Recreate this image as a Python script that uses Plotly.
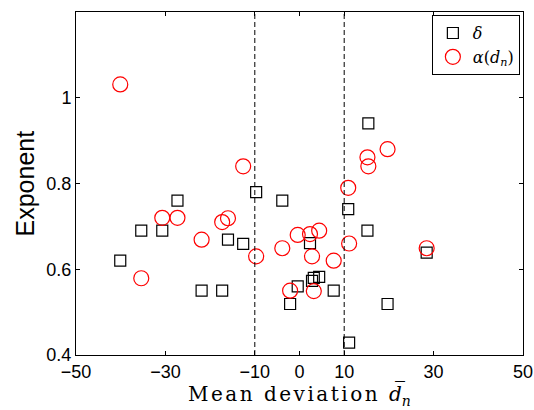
import plotly.graph_objects as go

# Mean deviation (x) shared by both series
mean_dev = [-40.1, -35.4, -30.7, -27.3, -21.9, -17.3, -16.0, -12.6, -9.7, -3.85,
            -2.1, -0.4, 2.35, 2.8, 3.2, 4.4, 7.65, 10.9, 11.1, 15.2, 15.4, 19.7, 28.45]
delta = [0.62, 0.69, 0.69, 0.76, 0.55, 0.55, 0.669, 0.659, 0.78, 0.76,
         0.519, 0.56, 0.661, 0.573, 0.58, 0.582, 0.55, 0.74, 0.429, 0.69, 0.94, 0.519, 0.639]
alpha = [1.031, 0.579, 0.72, 0.72, 0.669, 0.71, 0.719, 0.84, 0.63, 0.649,
         0.55, 0.68, 0.682, 0.63, 0.549, 0.69, 0.62, 0.79, 0.66, 0.861, 0.84, 0.88, 0.649]
x_ticks = [-50, -30, -10, 0, 10, 30, 50]
y_ticks = [0.4, 0.6, 0.8, 1.0]
y_tick_text = ["0.4", "0.6", "0.8", "1"]
vlines = [-10, 10]

fig = go.Figure()
fig.add_trace(go.Scatter(
    x=mean_dev, y=delta, mode="markers", name="<i>δ</i>",
    marker=dict(symbol="square-open", size=11, color="black", line=dict(width=1.2, color="black")),
))
fig.add_trace(go.Scatter(
    x=mean_dev, y=alpha, mode="markers", name="<i>α</i>(<i>d</i><sub><i>n</i></sub>)",
    marker=dict(symbol="circle-open", size=15, color="red", line=dict(width=1.2, color="red")),
))

for v in vlines:
    fig.add_shape(type="line", x0=v, x1=v, y0=0, y1=1, xref="x", yref="paper",
                  line=dict(color="black", width=1, dash="5px,3px"))

axis_common = dict(
    showline=True, linecolor="black", linewidth=1, mirror="ticks",
    ticks="inside", ticklen=4, tickcolor="black", showgrid=False, zeroline=False,
    automargin=False,
    tickfont=dict(family="Liberation Sans", size=18, color="black"),
)
fig.update_xaxes(range=[-50, 50], tickvals=x_ticks, **axis_common)
fig.update_yaxes(range=[0.4, 1.2], tickvals=y_ticks, ticktext=y_tick_text, **axis_common)

fig.add_annotation(
    text='<span style="letter-spacing:2.5px">Mean deviation </span><i>d̅</i><sub><i>n</i></sub>',
    x=0.5, y=0, xref="paper", yref="paper", xanchor="center", yanchor="top",
    yshift=-25, showarrow=False, borderpad=0,
    font=dict(family="DejaVu Serif", size=20, color="black"),
)
fig.add_annotation(
    text="Exponent", x=0, y=0.5, xref="paper", yref="paper", xanchor="center", yanchor="middle",
    xshift=-52, textangle=-90, showarrow=False,
    font=dict(family="Liberation Sans", size=25, color="black"),
)

fig.update_layout(
    width=534, height=410,
    margin=dict(l=76, r=11, t=12, b=55),
    paper_bgcolor="white", plot_bgcolor="white",
    showlegend=True,
    legend=dict(x=0.993, y=0.991, xanchor="right", yanchor="top",
                bgcolor="white", bordercolor="black", borderwidth=1,
                font=dict(family="DejaVu Serif", size=16, color="black"),
                tracegroupgap=0, itemwidth=30),
)

fig.write_html("out.html", config={"displayModeBar": False},
               post_script="document.body.style.margin='0';document.body.style.overflow='hidden';")
